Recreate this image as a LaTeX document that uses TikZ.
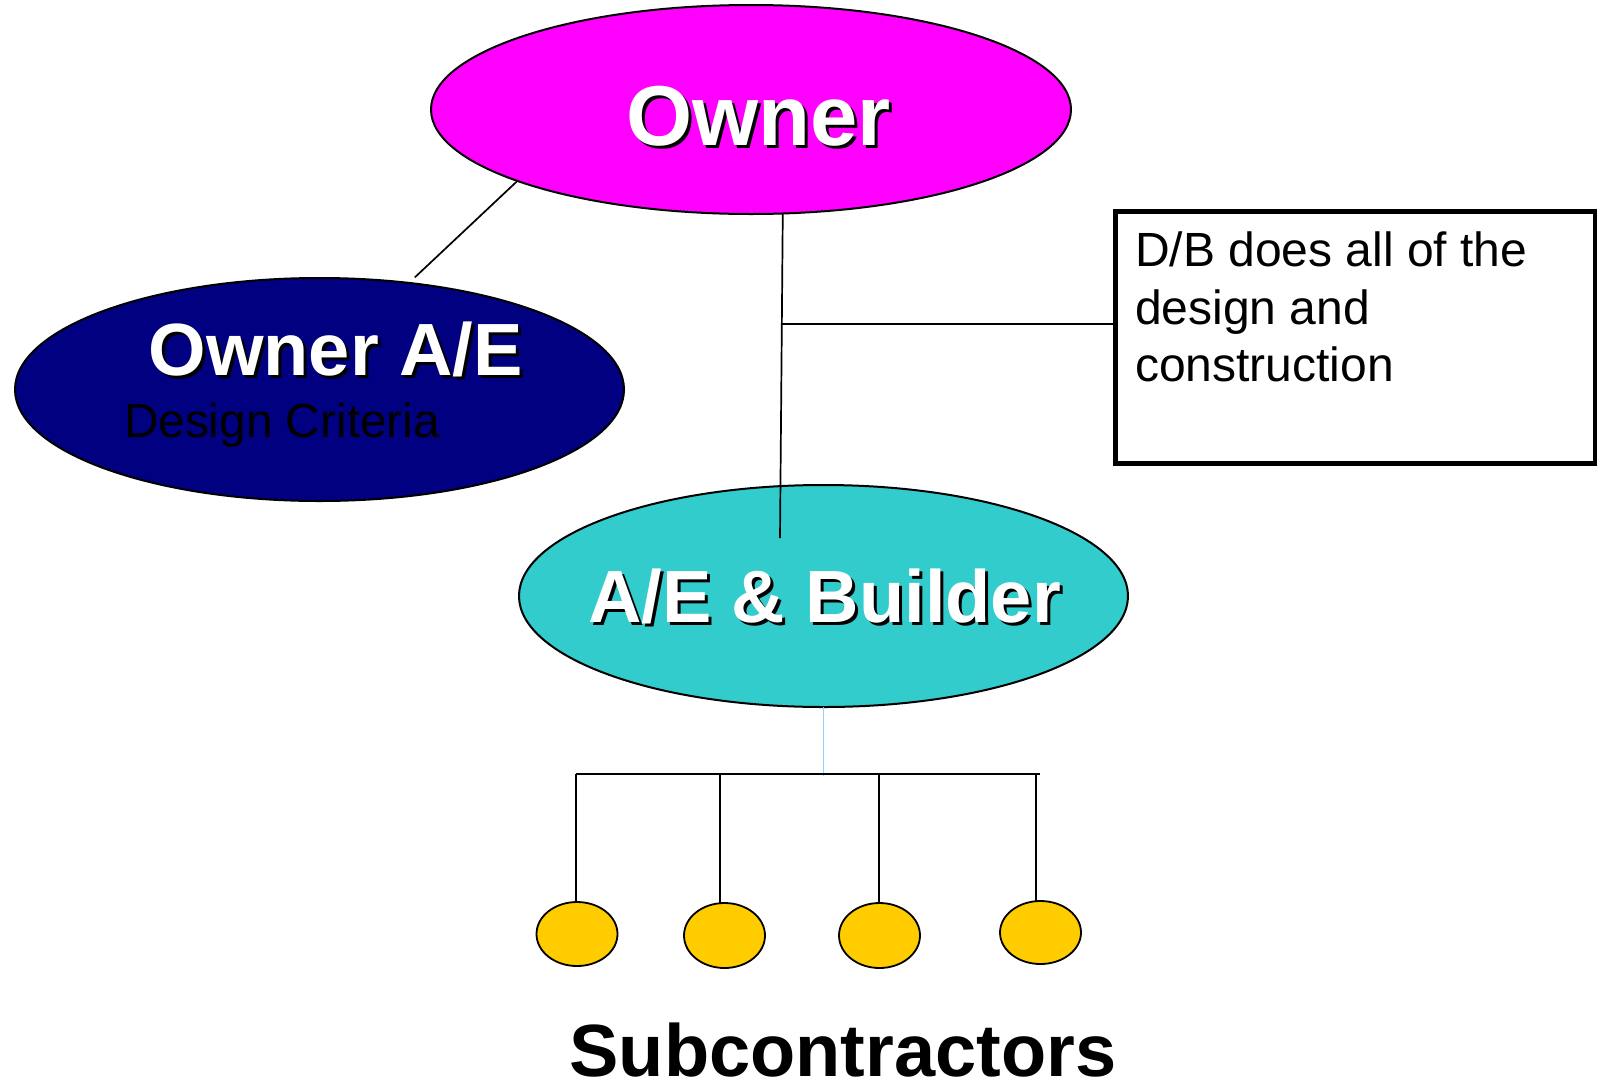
\documentclass[tikz,border=0pt]{standalone}
\usepackage{fontspec}
\setmainfont{Liberation Sans}
\usetikzlibrary{shapes.geometric}

\definecolor{ownermag}{HTML}{FF00FF}
\definecolor{aenavy}{HTML}{000080}
\definecolor{buildteal}{HTML}{33CCCC}
\definecolor{subyellow}{HTML}{FFCC00}
\definecolor{feedblue}{HTML}{99CCFF}

\newcommand{\dropshadow}[1]{\makebox[0pt][l]{\hspace{3pt}\raisebox{-3pt}{\color{black}#1}}#1}

\begin{document}
\begin{tikzpicture}[
    x=1pt, y=-1pt,
    every node/.style={inner sep=0pt, outer sep=0pt},
    party/.style={ellipse, draw, line width=2pt},
    subnode/.style={ellipse, draw, line width=1.8pt, fill=subyellow, minimum width=81pt, minimum height=64pt},
    notebox/.style={rectangle, draw, line width=4.5pt, minimum width=479.5pt, minimum height=252pt},
    headtext/.style={anchor=base west, text=white, font=\bfseries\fontsize{74}{80}\selectfont},
    bodytext/.style={anchor=base west, font=\fontsize{47.8}{57.5}\selectfont},
    link/.style={line width=1.7pt},
    feed/.style={line width=1.5pt, draw=feedblue}
]
\useasboundingbox (0,0) rectangle (1603,1082);

% --- parties ---
\node (owner) [party, fill=ownermag, minimum width=640pt, minimum height=209pt] at (751,109.5) {};
\node (ownerae) [party, fill=aenavy, minimum width=609pt, minimum height=223pt] at (319.5,389.5) {};
\node (builder) [party, fill=buildteal, minimum width=609pt, minimum height=222pt] at (823.5,596) {};
\node (dbbox) [notebox] at (1355.25,337.5) {};

% --- labels ---
\node (ownertxt) [headtext, font=\bfseries\fontsize{85}{90}\selectfont] at (626,145) {\dropshadow{Owner}};
\node (oaetxt) [headtext] at (148.5,375) {\dropshadow{Owner A/E}};
\node (criteria) [bodytext] at (124,437) {Design Criteria};
\node (buildtxt) [headtext] at (588,622) {\dropshadow{A/E \& Builder}};
\node (dbtxt) [anchor=north west, align=left, font=\fontsize{48}{57.5}\selectfont] at (1135,232) {D/B does all of the\\design and\\construction};

% --- subcontractors ---
\node (sub1) [subnode] at (577,934) {};
\node (sub2) [subnode, minimum height=65pt] at (724.5,935.5) {};
\node (sub3) [subnode, minimum height=65pt] at (879.5,935.5) {};
\node (sub4) [subnode, minimum height=63pt] at (1040.5,932.5) {};
\node (subtxt) [anchor=base, font=\bfseries\fontsize{74}{80}\selectfont] at (843,1076) {Subcontractors};

% --- connectors ---
\coordinate (drop) at (780,538);
\coordinate (tap1) at (576,774);
\coordinate (tap2) at (720,774);
\coordinate (tap3) at (879,774);
\coordinate (tap4) at (1036,774);
\coordinate (barend) at (1040,774);

\draw [link, shorten <=8pt] (ownerae.50) -- (owner.197);
\draw [link] (owner.287) -- coordinate[pos=0.34] (tee) (drop);
\draw [link] (tee) -- (tee -| dbbox.west);
\draw [feed] (builder.south) -- ([yshift=-2pt]builder.south |- tap1);
\draw [link] (tap1) -- (barend);
\foreach \i in {1,...,4}
    \draw [link] (tap\i) -- (tap\i |- sub\i.north);

\end{tikzpicture}
\end{document}
